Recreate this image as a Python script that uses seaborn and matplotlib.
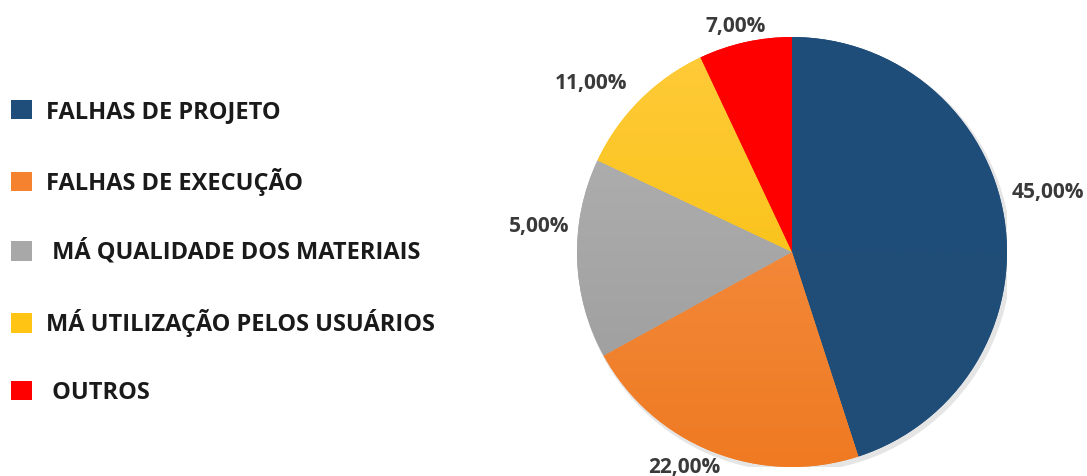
import numpy as np
import matplotlib
matplotlib.use("Agg")
import matplotlib.pyplot as plt
import matplotlib.colors as mcolors
import seaborn as sns

# ---- data ----
categories = ["FALHAS DE PROJETO", "FALHAS DE EXECUÇÃO", " MÁ QUALIDADE DOS MATERIAIS",
              "MÁ UTILIZAÇÃO PELOS USUÁRIOS", " OUTROS"]
values = [45, 22, 15, 11, 7]          # slice sizes as drawn
pct_labels = ["45,00%", "22,00%", "5,00%", "11,00%", "7,00%"]  # labels as printed
colors = ["#1F4E7A", "#F4822E", "#A8A8A8", "#FFC414", "#FF0000"]
top_colors = ["#1F4E7A", "#F6964F", "#B4B4B4", "#FFCB3A", "#FF0000"]
bottom_colors = ["#1F4D78", "#EF7A22", "#9A9A9A", "#F6BD00", "#FF0000"]
label_dist = [1.22, 1.12, 1.18, 1.22, 1.08]
label_offset_cw = [-4, 5, 7.5, -5, -1.5]

sns.set_theme(style="white")
plt.rcParams['font.family'] = ['Open Sans', 'DejaVu Sans']
palette = sns.color_palette(colors)

W, H = 1087, 476
fig = plt.figure(figsize=(W / 100, H / 100), dpi=100)
fig.patch.set_facecolor("white")

cx, cy, r = 792, 252, 215
ax = fig.add_axes([(cx - r) / W, (H - cy - r) / H, 2 * r / W, 2 * r / H])

wedges, texts = ax.pie(values, colors=palette, startangle=90, counterclock=False,
                       labels=pct_labels, labeldistance=1.15,
                       wedgeprops=dict(linewidth=0),
                       textprops=dict(fontsize=15, fontweight="bold", color="#3a3a3a"))
ax.set_aspect("equal")
ax.axis("off")

# soft shadow
shadow = plt.Circle((0.012, -0.015), 1.008, color="#000000", alpha=0.10, zorder=0, lw=0)
ax.add_patch(shadow)

# vertical gradient per wedge
for w, tc, bc in zip(wedges, top_colors, bottom_colors):
    c1 = np.array(mcolors.to_rgb(tc))
    c2 = np.array(mcolors.to_rgb(bc))
    t = np.linspace(0, 1, 256)[:, None]
    img = (c1[None, :] * (1 - t) + c2[None, :] * t)[:, None, :]
    im = ax.imshow(img, extent=(-1, 1, -1, 1), origin="upper", aspect="auto", zorder=w.get_zorder() + 0.1)
    im.set_clip_path(w)
ax.set_xlim(-1, 1)
ax.set_ylim(-1, 1)

for w, t, d, off in zip(wedges, texts, label_dist, label_offset_cw):
    ang = np.deg2rad((w.theta1 + w.theta2) / 2 - off)
    t.set_position((d * np.cos(ang), d * np.sin(ang)))
    t.set_ha("center")
    t.set_va("center")

leg = fig.legend(wedges, categories, loc="upper left", bbox_to_anchor=(0.0, 1 - 89 / H),
                 frameon=False, handlelength=0.9, handleheight=0.9, handletextpad=0.6,
                 labelspacing=1.86, borderaxespad=0, borderpad=0.45,
                 prop=dict(family="Open Sans", weight="bold", size=17))
for txt in leg.get_texts():
    txt.set_color("#1a1a1a")

fig.savefig("out.png", dpi=100, facecolor="white")
